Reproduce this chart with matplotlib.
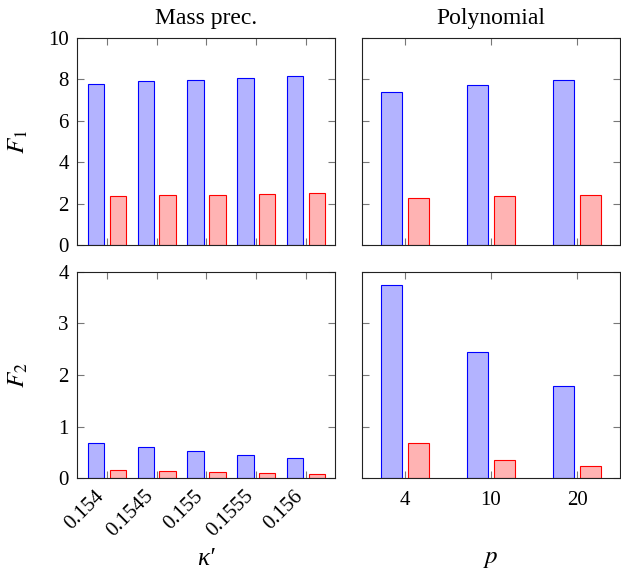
import matplotlib
matplotlib.use("Agg")
import matplotlib.pyplot as plt
from matplotlib.transforms import ScaledTranslation
import numpy as np

plt.rcParams['font.family'] = ['Liberation Serif', 'DejaVu Serif']
plt.rcParams['mathtext.fontset'] = 'stix'

kappa_labels = ["0.154", "0.1545", "0.155", "0.1555", "0.156"]
p_labels = ["4", "10", "20"]

mass_F1_blue = [7.79, 7.90, 7.98, 8.06, 8.18]
mass_F1_red = [2.38, 2.40, 2.43, 2.46, 2.49]
mass_F2_blue = [0.69, 0.61, 0.52, 0.445, 0.40]
mass_F2_red = [0.17, 0.15, 0.13, 0.11, 0.09]

poly_F1_blue = [7.39, 7.74, 7.95]
poly_F1_red = [2.27, 2.37, 2.43]
poly_F2_blue = [3.74, 2.44, 1.78]
poly_F2_red = [0.68, 0.36, 0.23]

blue_face, blue_edge = '#b3b3ff', '#0000ff'
red_face, red_edge = '#ffb3b3', '#ff0000'

fig = plt.figure(figsize=(6.21, 5.75), dpi=100)
W, H = 621, 575
def pos(x0, x1, y0, y1):
    return [x0 / W, 1 - y1 / H, (x1 - x0) / W, (y1 - y0) / H]

ax_tl = fig.add_axes(pos(77, 335, 38, 245))
ax_tr = fig.add_axes(pos(362, 620, 38, 245))
ax_bl = fig.add_axes(pos(77, 335, 271.7, 478.3))
ax_br = fig.add_axes(pos(362, 620, 271.7, 478.3))

def draw(ax, blue, red, labels, width, off, xlim):
    x = np.arange(len(labels))
    ax.bar(x - off, blue, width, color=blue_face, edgecolor=blue_edge, linewidth=0.8, zorder=2)
    ax.bar(x + off, red, width, color=red_face, edgecolor=red_edge, linewidth=0.8, zorder=2)
    ax.set_xticks(x)
    ax.set_xlim(*xlim)
    ax.tick_params(direction='in', top=True, right=True, length=5, width=0.8,
                   color='#777777', labelsize=15, pad=6)
    for s in ax.spines.values():
        s.set_linewidth(0.8)
        s.set_color('#222222')

draw(ax_tl, mass_F1_blue, mass_F1_red, kappa_labels, 0.33, 0.22, (-0.6, 4.58))
draw(ax_bl, mass_F2_blue, mass_F2_red, kappa_labels, 0.33, 0.22, (-0.6, 4.58))
draw(ax_tr, poly_F1_blue, poly_F1_red, p_labels, 0.25, 0.155, (-0.5, 2.5))
draw(ax_br, poly_F2_blue, poly_F2_red, p_labels, 0.25, 0.155, (-0.5, 2.5))

for ax in (ax_tl, ax_tr):
    ax.set_ylim(0, 10)
    ax.set_yticks([0, 2, 4, 6, 8, 10])
    ax.set_xticklabels([])
for ax in (ax_bl, ax_br):
    ax.set_ylim(0, 4)
    ax.set_yticks([0, 1, 2, 3, 4])
for ax in (ax_tr, ax_br):
    ax.set_yticklabels([])

ax_bl.set_xticklabels(kappa_labels, rotation=45, ha='right', va='center', rotation_mode='anchor')
ax_bl.tick_params(axis='x', pad=11)
shift = ScaledTranslation(-6 / 100, 0, fig.dpi_scale_trans)
for lab in ax_bl.get_xticklabels():
    lab.set_transform(lab.get_transform() + shift)
ax_br.set_xticklabels(p_labels)
ax_br.tick_params(axis='x', pad=9)

ax_tl.set_title('Mass prec.', fontsize=17, pad=10)
ax_tr.set_title('Polynomial', fontsize=17, pad=10)

ax_tl.set_ylabel(r'$F_1$', fontsize=18, va='center')
ax_tl.yaxis.set_label_coords(-0.229, 0.5)
ax_bl.set_ylabel(r'$F_2$', fontsize=18, va='center')
ax_bl.yaxis.set_label_coords(-0.229, 0.5)

ax_bl.set_xlabel('κ′', fontsize=18, fontstyle='italic', va='center')
ax_bl.xaxis.set_label_coords(0.5, -0.39)
ax_br.set_xlabel(r'$p$', fontsize=18, va='center')
ax_br.xaxis.set_label_coords(0.5, -0.39)

fig.savefig('out.png', dpi=100)
